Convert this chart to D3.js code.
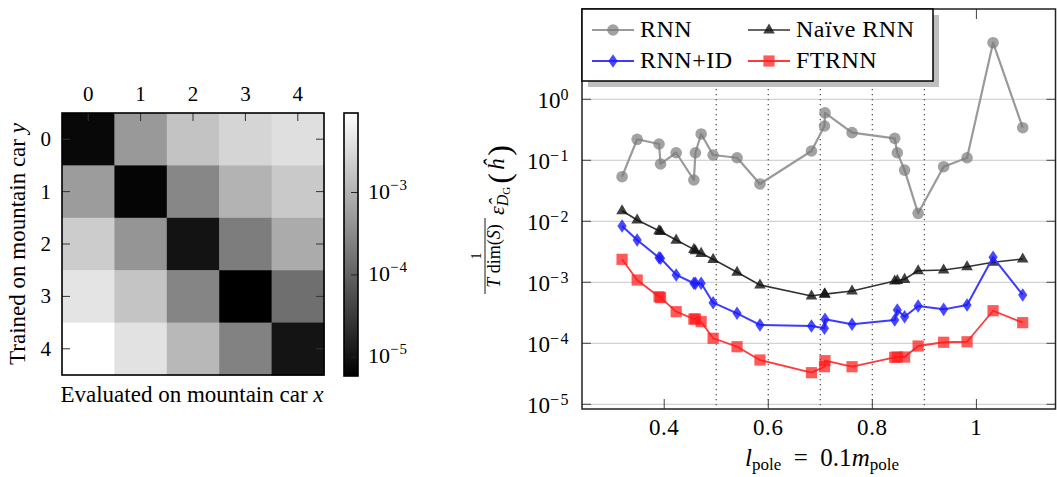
<!DOCTYPE html>
<html>
<head>
<meta charset="utf-8">
<script src="https://cdn.jsdelivr.net/npm/d3@7/dist/d3.min.js"></script>
<style>
  html, body { margin: 0; padding: 0; background: #fff; }
  svg { display: block; font-family: "Liberation Serif", "Times New Roman", serif; }
</style>
</head>
<body>
<svg id="fig" width="1057" height="477"></svg>
<script>
// ---- Cross-evaluation matrix (left panel) ----
const trainedOn = ["0", "1", "2", "3", "4"];
const evaluatedOn = ["0", "1", "2", "3", "4"];
const heatValues = [
  [7.4e-6, 4.9e-4, 1.64e-3, 2.74e-3, 3.68e-3],
  [5.25e-4, 6.9e-6, 2.92e-4, 1.02e-3, 1.97e-3],
  [2.12e-3, 4.37e-4, 1.03e-5, 2.17e-4, 8.2e-4],
  [4.27e-3, 1.70e-3, 2.71e-4, 5.93e-6, 1.45e-4],
  [9.23e-3, 3.96e-3, 1.18e-3, 2.52e-4, 1.07e-5]
];
const colorbarTicks = [1e-5, 1e-4, 1e-3];

// ---- Generalisation error vs. pole length (right panel) ----
const poleLength = [0.319, 0.348, 0.390, 0.393, 0.423, 0.457, 0.460, 0.471, 0.494, 0.540, 0.584,
  0.683, 0.708, 0.709, 0.761, 0.843, 0.848, 0.862, 0.888, 0.937, 0.982, 1.032, 1.089];
const rnnErr = [0.0538, 0.221, 0.185, 0.087, 0.133, 0.0475, 0.133, 0.27, 0.122, 0.110, 0.0409,
  0.142, 0.365, 0.60, 0.284, 0.229, 0.133, 0.069, 0.0135, 0.0785, 0.110, 8.47, 0.342];
const naiveRnnErr = [0.0149, 0.0105, 0.0070, 0.0068, 0.00493, 0.00347, 0.0033, 0.00299, 0.00238, 0.00146, 0.000903,
  0.000596, 0.000643, 0.00064, 0.00072, 0.00105, 0.00107, 0.00112, 0.00155, 0.00159, 0.0018, 0.00213, 0.00241];
const rnnIdErr = [0.00838, 0.00493, 0.00253, 0.00248, 0.00132, 0.000964, 0.00096, 0.000964, 0.000463, 0.00031, 0.0002,
  0.000192, 0.000176, 0.000247, 0.000205, 0.000241, 0.000352, 0.000273, 0.000408, 0.00036, 0.000425, 0.00257, 0.00062];
const ftrnnErr = [0.00238, 0.00109, 0.00058, 0.00056, 0.00033, 0.00025, 0.00025, 0.000226, 0.000121, 0.0000879, 0.0000532,
  0.000033, 0.0000413, 0.0000519, 0.0000413, 0.0000589, 0.0000596, 0.0000596, 0.0000903, 0.000104, 0.000106, 0.000342, 0.000218];
const xTicks = [0.4, 0.6, 0.8, 1];
const xTickLabels = ["0.4", "0.6", "0.8", "1"];
const yTicks = [1e-5, 1e-4, 1e-3, 1e-2, 1e-1, 1e0];
const yTickExponents = ["\u22125", "\u22124", "\u22123", "\u22122", "\u22121", "0"];
const referenceLengths = [0.5, 0.6, 0.7, 0.8, 0.9];
const seriesNames = ["RNN", "Na\u00efve RNN", "RNN+ID", "FTRNN"];

const svg = d3.select("#fig");

// ================= Left panel: heat map =================
const hm = { left: 62, top: 113, size: 262 };
const hx = d3.scaleBand().domain(evaluatedOn).range([hm.left, hm.left + hm.size]);
const hy = d3.scaleBand().domain(trainedOn).range([hm.top, hm.top + hm.size]);
const extent = d3.extent(heatValues.flat());
const shade = d3.scaleLog().domain(extent).range([0, 1]);
const gray = v => d3.interpolateRgb("#000", "#fff")(shade(v));

const cells = [];
heatValues.forEach((row, i) => row.forEach((v, j) => cells.push({ r: trainedOn[i], c: evaluatedOn[j], v })));
svg.append("g").selectAll("rect").data(cells).join("rect")
  .attr("x", d => hx(d.c)).attr("y", d => hy(d.r))
  .attr("width", hx.bandwidth() + 0.5).attr("height", hy.bandwidth() + 0.5)
  .attr("fill", d => gray(d.v));

// inward ticks: top, left, right
const tk = svg.append("g").attr("stroke", "#333").attr("stroke-width", 1);
evaluatedOn.forEach(c => {
  const cx = hx(c) + hx.bandwidth() / 2;
  tk.append("line").attr("x1", cx).attr("x2", cx).attr("y1", hm.top).attr("y2", hm.top + 8);
});
trainedOn.forEach(r => {
  const cy = hy(r) + hy.bandwidth() / 2;
  tk.append("line").attr("x1", hm.left).attr("x2", hm.left + 8).attr("y1", cy).attr("y2", cy);
  tk.append("line").attr("x1", hm.left + hm.size - 8).attr("x2", hm.left + hm.size).attr("y1", cy).attr("y2", cy);
});
svg.append("rect").attr("x", hm.left).attr("y", hm.top).attr("width", hm.size).attr("height", hm.size)
  .attr("fill", "none").attr("stroke", "#000").attr("stroke-width", 1.6);

svg.append("g").selectAll("text").data(evaluatedOn).join("text")
  .attr("x", d => hx(d) + hx.bandwidth() / 2).attr("y", 101)
  .attr("text-anchor", "middle").attr("font-size", 21).text(d => d);
svg.append("g").selectAll("text").data(trainedOn).join("text")
  .attr("x", 51).attr("y", d => hy(d) + hy.bandwidth() / 2 + 7)
  .attr("text-anchor", "end").attr("font-size", 21).text(d => d);

const xl = svg.append("text").attr("x", 192).attr("y", 402).attr("text-anchor", "middle").attr("font-size", 23);
xl.append("tspan").text("Evaluated on mountain car ");
xl.append("tspan").attr("font-style", "italic").text("x");

const yl = svg.append("text").attr("transform", "translate(25,244) rotate(-90)")
  .attr("text-anchor", "middle").attr("font-size", 23);
yl.append("tspan").text("Trained on mountain car ");
yl.append("tspan").attr("font-style", "italic").text("y");

// colour bar
const cb = { x: 344, y: 113, w: 14, h: 263 };
const defs = svg.append("defs");
const grad = defs.append("linearGradient").attr("id", "cbGrad").attr("x1", 0).attr("y1", 1).attr("x2", 0).attr("y2", 0);
grad.append("stop").attr("offset", 0).attr("stop-color", "#000");
grad.append("stop").attr("offset", 1).attr("stop-color", "#fff");
const cbScale = d3.scaleLog().domain(extent).range([cb.y + cb.h, cb.y]);
svg.append("rect").attr("x", cb.x).attr("y", cb.y).attr("width", cb.w).attr("height", cb.h)
  .attr("fill", "url(#cbGrad)");
colorbarTicks.forEach(t => {
  const yy = cbScale(t);
  svg.append("line").attr("x1", cb.x + cb.w - 7).attr("x2", cb.x + cb.w).attr("y1", yy).attr("y2", yy)
    .attr("stroke", "#222").attr("stroke-width", 1);
  const lab = svg.append("text").attr("x", 368).attr("y", yy + 6).attr("font-size", 22);
  lab.append("tspan").text("10");
  lab.append("tspan").attr("font-size", 15).attr("dy", -9).attr("letter-spacing", 1)
    .text("\u2212" + String(Math.round(-Math.log10(t))));
});
svg.append("rect").attr("x", cb.x).attr("y", cb.y).attr("width", cb.w).attr("height", cb.h)
  .attr("fill", "none").attr("stroke", "#000").attr("stroke-width", 1.6);

// ================= Right panel: error curves =================
const pl = { x0: 582, x1: 1055.5, y0: 9, y1: 409 };
const x = d3.scaleLinear().domain([0.242, 1.152]).range([pl.x0, pl.x1]);
const y = d3.scaleLog().domain([Math.pow(10, -5.077), Math.pow(10, 1.48)]).range([pl.y1, pl.y0]);

const plot = svg.append("g");
// horizontal grid at each decade
plot.append("g").selectAll("line").data(yTicks).join("line")
  .attr("x1", pl.x0).attr("x2", pl.x1).attr("y1", d => y(d)).attr("y2", d => y(d))
  .attr("stroke", "#c8c8c8").attr("stroke-width", 1);
// dotted reference lengths
plot.append("g").selectAll("line").data(referenceLengths).join("line")
  .attr("x1", d => x(d)).attr("x2", d => x(d)).attr("y1", pl.y0).attr("y2", pl.y1)
  .attr("stroke", "#555").attr("stroke-width", 1.3).attr("stroke-dasharray", "1.3,3.7");

// axis ticks (inward)
const ax = plot.append("g").attr("stroke", "#444").attr("stroke-width", 1);
yTicks.forEach(t => {
  ax.append("line").attr("x1", pl.x0).attr("x2", pl.x0 + 9).attr("y1", y(t)).attr("y2", y(t));
  ax.append("line").attr("x1", pl.x1 - 9).attr("x2", pl.x1).attr("y1", y(t)).attr("y2", y(t));
});
xTicks.forEach(t => {
  ax.append("line").attr("x1", x(t)).attr("x2", x(t)).attr("y1", pl.y1).attr("y2", pl.y1 - 10);
  ax.append("line").attr("x1", x(t)).attr("x2", x(t)).attr("y1", pl.y0).attr("y2", pl.y0 + 10);
});

// tick labels
plot.append("g").selectAll("text").data(xTicks).join("text")
  .attr("x", d => x(d)).attr("y", 435).attr("text-anchor", "middle").attr("font-size", 23)
  .attr("letter-spacing", 0.6)
  .text((d, i) => xTickLabels[i]);
const yLab = plot.append("g").selectAll("text").data(yTicks).join("text")
  .attr("x", 570).attr("y", d => y(d) + 9).attr("text-anchor", "end").attr("font-size", 23);
yLab.append("tspan").text("10");
yLab.append("tspan").attr("font-size", 16).attr("dy", -8.5).attr("letter-spacing", 1.5)
  .text((d, i) => yTickExponents[i]);

// series
const triangle = "M0,-6.5L5.8,3.6L-5.8,3.6Z";
const diamond = "M0,-6.8L4.6,0L0,6.8L-4.6,0Z";
const square = "M-5.6,-5.6H5.6V5.6H-5.6Z";
const series = [
  { name: seriesNames[0], vals: rnnErr, line: "#9a9a9a", lw: 2.2, fill: "#7a7a7a", op: 0.7, mark: "circle" },
  { name: seriesNames[1], vals: naiveRnnErr, line: "#333", lw: 1.6, fill: "#111", op: 0.8, mark: triangle },
  { name: seriesNames[2], vals: rnnIdErr, line: "#3c3cff", lw: 2, fill: "#1a1aff", op: 0.8, mark: diamond },
  { name: seriesNames[3], vals: ftrnnErr, line: "#ff3a3a", lw: 1.8, fill: "#ff1a1a", op: 0.72, mark: square }
];
const lineGen = d3.line().x(d => x(d[0])).y(d => y(d[1]));
series.forEach(s => {
  const pts = poleLength.map((p, i) => [p, s.vals[i]]);
  const g = plot.append("g");
  g.append("path").datum(pts).attr("d", lineGen).attr("fill", "none")
    .attr("stroke", s.line).attr("stroke-width", s.lw).attr("stroke-linejoin", "round");
  if (s.mark === "circle") {
    g.selectAll("circle").data(pts).join("circle")
      .attr("cx", d => x(d[0])).attr("cy", d => y(d[1])).attr("r", 5.8)
      .attr("fill", s.fill).attr("fill-opacity", s.op);
  } else {
    g.selectAll(".m").data(pts).join("path").attr("class", "m")
      .attr("transform", d => `translate(${x(d[0])},${y(d[1])})`).attr("d", s.mark)
      .attr("fill", s.fill).attr("fill-opacity", s.op);
  }
});

// frame
plot.append("rect").attr("x", pl.x0).attr("y", pl.y0).attr("width", pl.x1 - pl.x0).attr("height", pl.y1 - pl.y0)
  .attr("fill", "none").attr("stroke", "#222").attr("stroke-width", 1.5);

// legend with drop shadow
const lg = { x: 582, y: 9, w: 351, h: 72 };
svg.append("rect").attr("x", lg.x + 6).attr("y", lg.y + 6).attr("width", lg.w).attr("height", lg.h).attr("fill", "#bfbfbf");
svg.append("rect").attr("x", lg.x).attr("y", lg.y).attr("width", lg.w).attr("height", lg.h)
  .attr("fill", "#fff").attr("stroke", "#000").attr("stroke-width", 1.5);
const legPos = [
  { lx: 592, ty: 30, tx: 640 },
  { lx: 748, ty: 30, tx: 796 },
  { lx: 592, ty: 61, tx: 640 },
  { lx: 748, ty: 61, tx: 796 }
];
series.forEach((s, i) => {
  const p = legPos[i];
  const g = svg.append("g");
  g.append("line").attr("x1", p.lx).attr("x2", p.lx + 42).attr("y1", p.ty).attr("y2", p.ty)
    .attr("stroke", s.line).attr("stroke-width", s.lw);
  if (s.mark === "circle") {
    g.append("circle").attr("cx", p.lx + 21).attr("cy", p.ty).attr("r", 5.8).attr("fill", s.fill).attr("fill-opacity", s.op);
  } else {
    g.append("path").attr("transform", `translate(${p.lx + 21},${p.ty})`).attr("d", s.mark)
      .attr("fill", s.fill).attr("fill-opacity", s.op);
  }
  g.append("text").attr("x", p.tx).attr("y", p.ty + 7).attr("font-size", 24).attr("letter-spacing", 0.5).text(s.name);
});

// x-axis title
const xt = svg.append("text").attr("x", 822).attr("y", 466).attr("text-anchor", "middle").attr("font-size", 25);
xt.append("tspan").attr("font-style", "italic").text("l");
xt.append("tspan").attr("font-size", 17).attr("dy", 4).text("pole");
xt.append("tspan").attr("dy", -4).text("\u2002=\u20020.1");
xt.append("tspan").attr("font-style", "italic").text("m");
xt.append("tspan").attr("font-size", 17).attr("dy", 4).text("pole");

// y-axis title (rotated): 1/(T dim(S)) eps_{D_G}(h)
const yt = svg.append("g").attr("transform", "translate(505,212) rotate(-90)");
yt.append("text").attr("x", -44).attr("y", -24).attr("text-anchor", "middle").attr("font-size", 14).text("1");
yt.append("line").attr("x1", -82).attr("x2", -6).attr("y1", -20).attr("y2", -20).attr("stroke", "#000").attr("stroke-width", 0.9);
const den = yt.append("text").attr("x", -44).attr("y", -5).attr("text-anchor", "middle").attr("font-size", 18);
den.append("tspan").attr("font-style", "italic").text("T");
den.append("tspan").text(" dim(");
den.append("tspan").attr("font-style", "italic").text("S");
den.append("tspan").text(")");
const num = yt.append("text").attr("x", -3).attr("y", -1).attr("font-size", 22);
num.append("tspan").attr("font-style", "italic").text("\u03b5\u0302");
num.append("tspan").attr("font-style", "italic").attr("font-size", 16).attr("dy", 4).text("D");
num.append("tspan").attr("font-size", 11).attr("dy", 2).text("G");
num.append("tspan").attr("font-size", 32).attr("dy", 0).attr("dx", 3).text("(");
num.append("tspan").attr("font-style", "italic").attr("font-size", 23).attr("dy", -6).attr("dx", 3).text("\u0125");
num.append("tspan").attr("font-size", 32).attr("dy", 6).attr("dx", 3).text(")");
</script>
</body>
</html>
